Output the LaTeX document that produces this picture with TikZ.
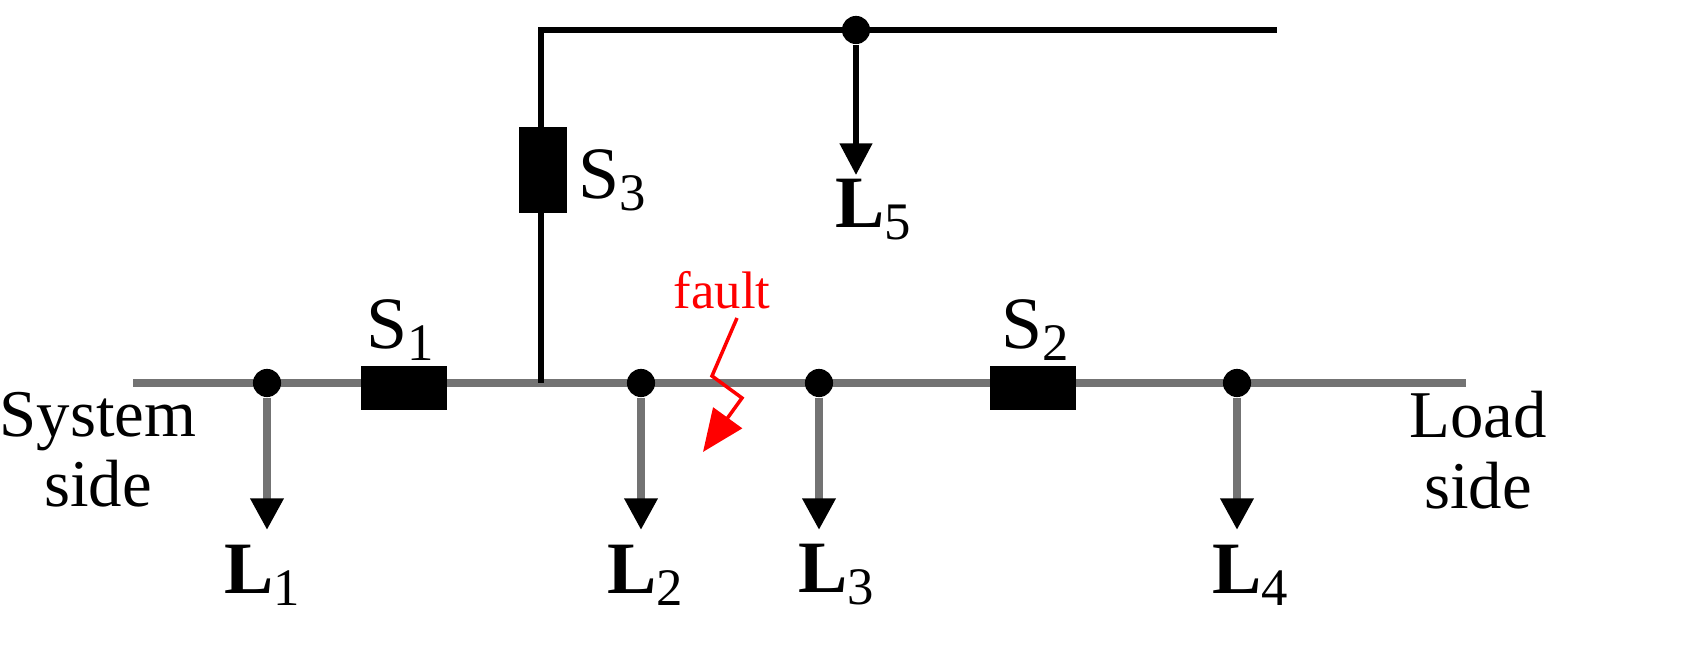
\documentclass[tikz,border=0pt]{standalone}
\usepackage{fontspec}
\setmainfont{Liberation Serif}
\usetikzlibrary{arrows.meta}
\newcommand{\sbs}[1]{\raisebox{-0.35ex}{\fontsize{15}{16}\selectfont #1}}
\begin{document}
\begin{tikzpicture}[x=0.01cm,y=-0.01cm,
  line/.style={draw=gray!90!black,line width=2.2pt},
  bus/.style={draw=black,line width=1.6pt},
  dot/.style={circle,fill=black,inner sep=0pt,minimum size=8pt},
  sw/.style={draw=black,fill=black,inner sep=0pt},
  load/.style={draw=gray!90!black,line width=2.2pt,-{Triangle[length=9pt,width=9pt,color=black]}},
  lbl/.style={font=\fontsize{21}{24}\selectfont},
  txt/.style={font=\fontsize{19}{20}\selectfont,align=center}]
\useasboundingbox (0,0) rectangle (1699,671);
% main bus
\coordinate (ms) at (133,383); \coordinate (me) at (1466,383);
\draw[line] (ms) -- (me);
\node[dot] (d1) at (267,383) {};
\node[dot] (d2) at (641,383) {};
\node[dot] (d3) at (819,383) {};
\node[dot] (d4) at (1237,383) {};
\node[sw,minimum width=24pt,minimum height=12.2pt] (s1) at (404,388) {};
\node[sw,minimum width=24pt,minimum height=12.2pt] (s2) at (1033,388) {};
% S3 branch
\coordinate (j) at (541,383); \coordinate (tc) at (541,30); \coordinate (te) at (1277,30);
\draw[bus] (j) -- (tc) -- (te);
\node[sw,minimum width=13.4pt,minimum height=24pt] (s3) at (543,170) {};
\node[dot] (d5) at (856,30) {};
\coordinate (l5e) at (856,175);
\draw[bus,-{Triangle[length=9pt,width=9pt]}] (d5) -- (l5e);
% loads
\coordinate (l1e) at (267,530); \coordinate (l2e) at (641,530);
\coordinate (l3e) at (819,530); \coordinate (l4e) at (1237,530);
\draw[load] (d1) -- (l1e);
\draw[load] (d2) -- (l2e);
\draw[load] (d3) -- (l3e);
\draw[load] (d4) -- (l4e);
% labels
\node[lbl] (tS1) at (400,330) {S\sbs{1}};
\node[lbl] (tS2) at (1035,330) {S\sbs{2}};
\node[lbl] (tS3) at (612,180) {S\sbs{3}};
\node[lbl] (tL5) at (873,210) {\textbf{L}\sbs{5}};
\node[lbl] (tL1) at (262,575) {\textbf{L}\sbs{1}};
\node[lbl] (tL2) at (645,575) {\textbf{L}\sbs{2}};
\node[lbl] (tL3) at (836,575) {\textbf{L}\sbs{3}};
\node[lbl] (tL4) at (1250,575) {\textbf{L}\sbs{4}};
\node[txt] (sys) at (98,450) {System\\side};
\node[txt] (ld) at (1478,450) {Load\\side};
% fault
\node[font=\fontsize{15}{16}\selectfont,text=red] (f) at (722,290) {fault};
\coordinate (f1) at (737,318); \coordinate (f2) at (712,376);
\coordinate (f3) at (742,398); \coordinate (f4) at (703,452);
\draw[red,line width=1pt,-{Triangle[length=12pt,width=10pt]}] (f1) -- (f2) -- (f3) -- (f4);
\end{tikzpicture}
\end{document}
